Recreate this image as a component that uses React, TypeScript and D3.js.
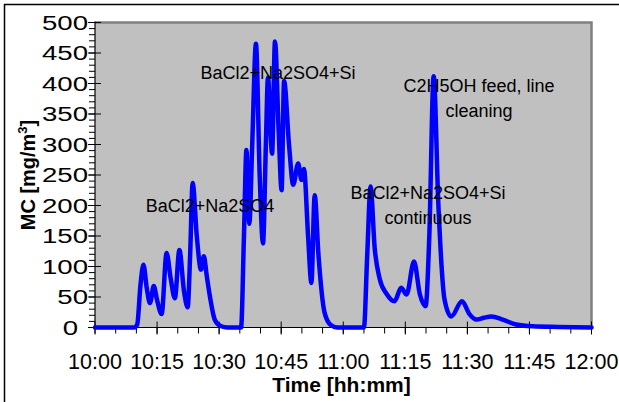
import React from "react";
import * as d3 from "d3";

// Minutes after 10:00 and the measured mass concentration at each sample
const timeMinutes = [
  0, 5, 9.5, 10.2, 11.0, 11.7, 12.5, 13.3, 14.2, 15.0, 16.1, 17.3, 18.3, 19.3, 20.4,
  21.5, 22.4, 23.0, 23.6, 24.6, 25.6, 26.3, 27.0, 27.8, 29.0, 30.5, 32, 35.3, 36.0,
  36.6, 37.3, 38.0, 38.9, 39.8, 40.6, 41.3, 41.8, 42.8, 43.5, 44.4, 45.1, 45.7, 46.9,
  47.9, 49.1, 49.9, 50.5, 51.5, 52.3, 53.1, 54.0, 55.5, 57.0, 58.5, 65.0, 65.8, 66.6,
  67.6, 68.8, 70.5, 72.4, 74.0, 75.3, 77.1, 78.5, 79.9, 80.8, 81.85, 83.0, 84.5, 86.1,
  88.7, 90.5, 92.2, 94, 95.8, 98.5, 101.8, 105.8, 112, 120,
];
const mcValues = [
  0, 0, 0, 5, 70, 103, 65, 40, 68, 45, 22, 122, 80, 48, 127,
  60, 33, 120, 237, 150, 95, 117, 85, 50, 12, 2, 0, 0, 150,
  291, 170, 300, 465, 250, 138, 300, 410, 285, 469, 320, 225, 404, 299,
  234, 269, 242, 260, 150, 73, 217, 120, 24, 4, 0, 0, 120, 231,
  130, 80, 55, 43, 65, 54, 108, 55, 35, 150, 412, 200, 45, 18,
  43, 22, 13, 16, 18, 13, 5, 2, 1, 0,
];

const yTickValues = [0, 50, 100, 150, 200, 250, 300, 350, 400, 450, 500];
const xTickLabels = ["10:00", "10:15", "10:30", "10:45", "11:00", "11:15", "11:30", "11:45", "12:00"];

type Note = { lines: string[]; cx: number; y: number };
const notes: Note[] = [
  { lines: ["BaCl2+Na2SO4+Si"], cx: 278, y: 79 },
  { lines: ["BaCl2+Na2SO4"], cx: 210, y: 212 },
  { lines: ["BaCl2+Na2SO4+Si", "continuous"], cx: 428, y: 199 },
  { lines: ["C2H5OH feed, line", "cleaning"], cx: 479, y: 92 },
];

const W = 619;
const H = 402;
const left = 95;
const right = 591.5;
const top = 22.5;
const bottom = 327.5;

const base = new Date(2000, 0, 1, 10, 0, 0);
const toDate = (m: number) => new Date(base.getTime() + m * 60000);

export default function App() {
  const x = d3.scaleTime().domain([toDate(0), toDate(120)]).range([left, right]);
  const y = d3.scaleLinear().domain([0, 500]).range([bottom, top]);

  const series = timeMinutes.map((t, i) => ({ d: toDate(t), v: mcValues[i] }));
  const line = d3
    .line<{ d: Date; v: number }>()
    .x((p) => x(p.d))
    .y((p) => y(p.v))
    .curve(d3.curveMonotoneX);

  const minorY = d3.range(0, 501, 10);
  const minorX = d3.range(0, 121, 5).map(toDate);
  const majorX = d3.range(0, 121, 15).map(toDate);
  const fmt = d3.timeFormat("%H:%M");
  const font = "'Liberation Sans', Arial, sans-serif";

  return (
    <svg width={W} height={H} style={{ position: "absolute", left: 0, top: 0 }} fontFamily={font}>
      <rect x={0} y={0} width={W} height={H} fill="#fff" />
      <rect x={4.5} y={4.5} width={W + 20} height={H + 20} fill="none" stroke="#000" strokeWidth={1.5} />

      {/* plot area */}
      <rect x={left} y={top} width={right - left} height={bottom - top} fill="#C0C0C0" />
      <path d={`M${left},${top}H${right}V${bottom}`} fill="none" stroke="#808080" strokeWidth={2.5} />

      {/* y axis */}
      <line x1={left} x2={left} y1={top - 1} y2={bottom} stroke="#000" strokeWidth={1.2} />
      {minorY.map((v) => (
        <line key={"my" + v} x1={left - 6} x2={left} y1={y(v)} y2={y(v)} stroke="#000" strokeWidth={1} />
      ))}
      {yTickValues.map((v) => (
        <g key={"y" + v}>
          <line x1={left - 7} x2={left + 6} y1={y(v)} y2={y(v)} stroke="#000" strokeWidth={1} />
          <text
            transform={`translate(${v === 0 ? 78 : 88},${y(v)}) scale(1.38,1)`}
            dy="0.36em"
            textAnchor="end"
            fontSize={20}
            fill="#000"
          >
            {v}
          </text>
        </g>
      ))}

      {/* x axis */}
      <line x1={left} x2={right} y1={bottom} y2={bottom} stroke="#000" strokeWidth={1.2} />
      {minorX.map((d, i) => (
        <line key={"mx" + i} x1={x(d)} x2={x(d)} y1={bottom} y2={bottom + 6} stroke="#000" strokeWidth={1} />
      ))}
      {majorX.map((d, i) => (
        <g key={"x" + i}>
          <line x1={x(d)} x2={x(d)} y1={bottom - 6} y2={bottom + 7} stroke="#000" strokeWidth={1} />
          <text x={x(d)} y={369} textAnchor="middle" fontSize={21.5} fill="#000">
            {xTickLabels[i] ?? fmt(d)}
          </text>
        </g>
      ))}

      {/* concentration trace */}
      <path d={line(series) ?? ""} fill="none" stroke="#0000FF" strokeWidth={4.5} strokeLinejoin="round" strokeLinecap="round" />

      {/* annotations */}
      {notes.map((n, i) => (
        <text key={"n" + i} x={n.cx} y={n.y} textAnchor="middle" fontSize={18} fill="#000">
          {n.lines.map((s, j) => (
            <tspan key={j} x={n.cx} dy={j === 0 ? 0 : 25}>
              {s}
            </tspan>
          ))}
        </text>
      ))}

      {/* axis titles */}
      <text x={341.5} y={392} textAnchor="middle" fontSize={21} fontWeight="bold" fill="#000">
        Time [hh:mm]
      </text>
      <text transform="translate(35,175) rotate(-90)" textAnchor="middle" fontSize={20} fontWeight="bold" fill="#000">
        MC [mg/m<tspan dy={-8} fontSize={13}>3</tspan>
        <tspan dy={8}>]</tspan>
      </text>
    </svg>
  );
}
